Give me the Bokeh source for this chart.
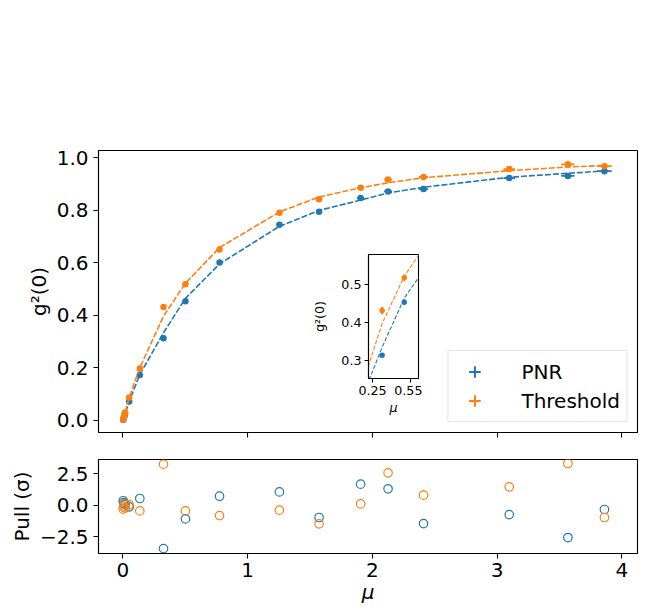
from bokeh.plotting import figure
from bokeh.layouts import column
from bokeh.models import (ColumnDataSource, Range1d, FixedTicker, Legend, LegendItem,
                          PrintfTickFormatter)
from bokeh.embed import file_html
from bokeh.resources import INLINE

# ---------------- data ----------------
mu = [0.003, 0.007, 0.012, 0.018, 0.051, 0.136, 0.326, 0.502, 0.775, 1.255,
      1.573, 1.906, 2.126, 2.410, 3.097, 3.567, 3.860]
mu_err = [0.0001, 0.0002, 0.0003, 0.0005, 0.001, 0.002, 0.005, 0.008, 0.012, 0.019,
          0.024, 0.029, 0.032, 0.036, 0.046, 0.053, 0.058]

g2_pnr = [0.003, 0.009, 0.016, 0.025, 0.072, 0.173, 0.313, 0.454, 0.601, 0.745,
          0.795, 0.847, 0.872, 0.881, 0.923, 0.931, 0.949]
g2_pnr_err = [0.001, 0.002, 0.002, 0.003, 0.004, 0.005, 0.006, 0.007, 0.007, 0.006,
              0.005, 0.005, 0.005, 0.005, 0.004, 0.004, 0.004]
fit_pnr = [0.003, 0.008, 0.016, 0.025, 0.072, 0.175, 0.334, 0.465, 0.596, 0.739,
           0.800, 0.839, 0.866, 0.888, 0.926, 0.941, 0.950]

g2_thr = [0.004, 0.011, 0.020, 0.030, 0.088, 0.198, 0.432, 0.519, 0.651, 0.791,
          0.842, 0.886, 0.917, 0.927, 0.957, 0.975, 0.968]
g2_thr_err = [0.001, 0.002, 0.003, 0.004, 0.005, 0.007, 0.010, 0.009, 0.008, 0.007,
              0.006, 0.005, 0.005, 0.004, 0.004, 0.003, 0.003]
fit_thr = [0.004, 0.011, 0.020, 0.030, 0.088, 0.201, 0.397, 0.523, 0.658, 0.794,
           0.851, 0.886, 0.905, 0.924, 0.951, 0.965, 0.971]

pull_pnr = [0.35, 0.20, 0.10, 0.05, -0.13, 0.53, -3.42, -1.08, 0.71, 1.05,
            -0.97, 1.66, 1.29, -1.45, -0.74, -2.55, -0.34]
pull_thr = [-0.30, -0.10, 0.10, -0.20, 0.05, -0.45, 3.24, -0.45, -0.82, -0.39,
            -1.47, 0.10, 2.55, 0.79, 1.45, 3.29, -0.97]

series_names = ["PNR", "Threshold"]
x_ticks = [0, 1, 2, 3, 4]
y_ticks = [0.0, 0.2, 0.4, 0.6, 0.8, 1.0]
pull_ticks = [-2.5, 0.0, 2.5]
inset_x_ticks = [0.25, 0.55]
inset_y_ticks = [0.3, 0.4, 0.5]

BLUE = "#1f77b4"
ORANGE = "#ff7f0e"
FONT = "DejaVu Sans"
FS = "20px"
FS_IN = "12.7px"


def src(g, ge, fit, pull):
    return ColumnDataSource(dict(
        x=mu, y=g, fit=fit, pull=pull,
        xl=[m - e for m, e in zip(mu, mu_err)], xh=[m + e for m, e in zip(mu, mu_err)],
        yl=[a - e for a, e in zip(g, ge)], yh=[a + e for a, e in zip(g, ge)],
    ))


s_pnr = src(g2_pnr, g2_pnr_err, fit_pnr, pull_pnr)
s_thr = src(g2_thr, g2_thr_err, fit_thr, pull_thr)


def style(p, fs):
    p.grid.visible = False
    p.outline_line_color = "black"
    p.outline_line_width = 1.1
    p.background_fill_color = "white"
    for ax in p.axis:
        ax.axis_line_color = "black"
        ax.axis_line_width = 1.1
        ax.major_tick_line_color = "black"
        ax.major_tick_line_width = 1.1
        ax.major_tick_out = 5
        ax.major_tick_in = 0
        ax.minor_tick_line_color = None
        ax.major_label_text_font = FONT
        ax.major_label_text_font_size = fs
        ax.major_label_text_color = "black"
        ax.axis_label_text_font = FONT
        ax.axis_label_text_font_size = fs
        ax.axis_label_text_color = "black"
        ax.axis_label_text_font_style = "normal"


def draw_series(p, s, color, lw_fit, dash, size):
    p.line("x", "fit", source=s, line_color=color, line_width=lw_fit, line_dash=dash)
    p.segment(x0="xl", y0="y", x1="xh", y1="y", source=s, line_color=color, line_width=1.8)
    p.segment(x0="x", y0="yl", x1="x", y1="yh", source=s, line_color=color, line_width=1.8)
    p.scatter("x", "y", source=s, size=size, fill_color=color, line_color=color, line_width=0)


# ---------------- main panel ----------------
p1 = figure(frame_width=539, frame_height=282,
            min_border_left=98, min_border_right=9, min_border_top=150, min_border_bottom=10,
            x_range=Range1d(-0.195, 4.125), y_range=Range1d(-0.0457, 1.0278),
            output_backend="svg", toolbar_location=None)
style(p1, FS)
p1.xaxis.ticker = FixedTicker(ticks=x_ticks)
p1.xaxis.major_label_overrides = {t: "" for t in x_ticks}
p1.xaxis.major_label_standoff = 0
p1.yaxis.ticker = FixedTicker(ticks=y_ticks)
p1.yaxis.formatter = PrintfTickFormatter(format="%.1f")
p1.yaxis.axis_label = "g²(0)"
p1.yaxis.axis_label_standoff = 3

items = []
for s, name, color in zip([s_pnr, s_thr], series_names, [BLUE, ORANGE]):
    draw_series(p1, s, color, 1.6, "6 2", 6.5)
    # legend handle: a cross (error bars) with a dot; size 0 so they add nothing to the plot
    c = p1.scatter("x", "y", source=s, marker="cross", size=0, line_color=color, line_width=2)
    dd = p1.scatter("x", "y", source=s, marker="dot", size=0, line_color=color,
                    fill_color=color, line_width=2)
    items.append(LegendItem(label=name, renderers=[c, dd]))

leg = Legend(items=items, location="bottom_right",
             label_text_font=FONT, label_text_font_size=FS, label_text_color="black",
             glyph_width=40, glyph_height=29, label_height=24, spacing=0,
             padding=6, margin=10, label_standoff=27,
             border_line_color="#cccccc", border_line_width=1,
             background_fill_color="white", background_fill_alpha=0.8)
p1.add_layout(leg)

# ---------------- pull panel ----------------
p2 = figure(frame_width=539, frame_height=94,
            min_border_left=98, min_border_right=9, min_border_top=17, min_border_bottom=50,
            x_range=p1.x_range, y_range=Range1d(-3.81, 3.605),
            output_backend="svg", toolbar_location=None)
style(p2, FS)
p2.xaxis.ticker = FixedTicker(ticks=x_ticks)
p2.xaxis.axis_label = "μ"
p2.xaxis.axis_label_text_font_style = "italic"
p2.xaxis.major_label_standoff = 4
p2.xaxis.axis_label_standoff = 0
p2.yaxis.ticker = FixedTicker(ticks=pull_ticks)
p2.yaxis.major_label_overrides = {-2.5: "−2.5", 0.0: "0.0", 2.5: "2.5"}
p2.yaxis.axis_label = "Pull (σ)"
p2.yaxis.axis_label_standoff = 3

for s, color in [(s_pnr, BLUE), (s_thr, ORANGE)]:
    p2.scatter("x", "pull", source=s, size=8.5, fill_color=None, line_color=color, line_width=1.2)

# ---------------- inset ----------------
inset = figure(frame_width=50, frame_height=124,
               min_border_left=63, min_border_right=4, min_border_top=4, min_border_bottom=40,
               x_range=Range1d(0.218, 0.615), y_range=Range1d(0.251, 0.581),
               output_backend="svg", toolbar_location=None,
               styles={"position": "absolute", "left": "305px", "top": "250px"})
style(inset, FS_IN)
inset.border_fill_alpha = 0
inset.xaxis.ticker = FixedTicker(ticks=inset_x_ticks)
inset.yaxis.ticker = FixedTicker(ticks=inset_y_ticks)
inset.xaxis.major_tick_out = 4
inset.yaxis.major_tick_out = 4
inset.xaxis.major_label_standoff = 3
inset.yaxis.major_label_standoff = 3
inset.xaxis.axis_label = "μ"
inset.xaxis.axis_label_text_font_style = "italic"
inset.xaxis.axis_label_standoff = 2
inset.yaxis.axis_label = "g²(0)"
inset.yaxis.axis_label_standoff = 11
draw_series(inset, s_pnr, BLUE, 1.1, "4 2", 5.5)
draw_series(inset, s_thr, ORANGE, 1.1, "4 2", 5.5)

layout = column(p1, p2)
open("out.html", "w").write(file_html([layout, inset], INLINE))
